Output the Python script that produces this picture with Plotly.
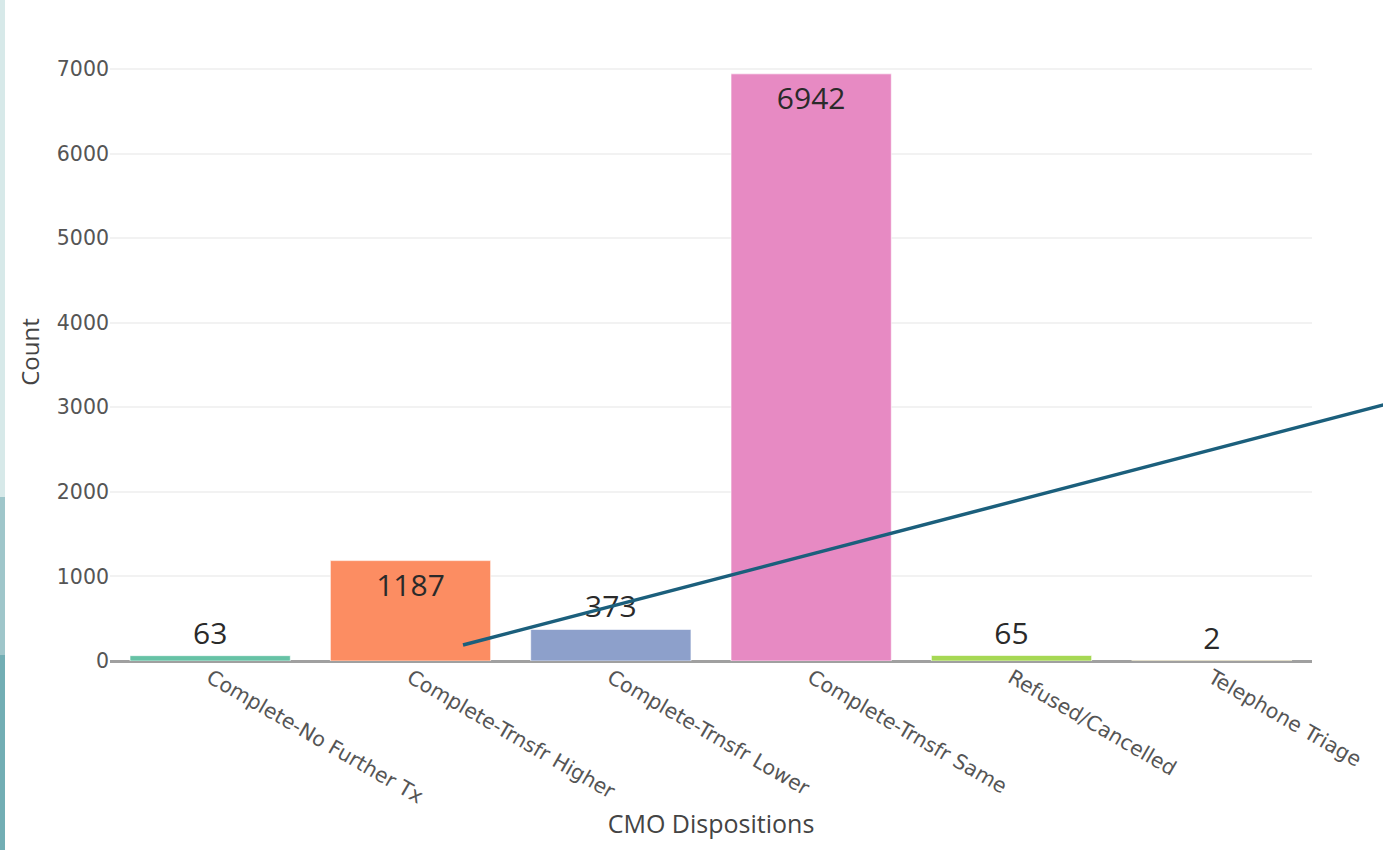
import plotly.graph_objects as go

categories = ["Complete-No Further Tx", "Complete-Trnsfr Higher", "Complete-Trnsfr Lower",
              "Complete-Trnsfr Same", "Refused/Cancelled", "Telephone Triage"]
counts = [63, 1187, 373, 6942, 65, 2]
bar_colors = ["#66c2a5", "#fc8d62", "#8da0cb", "#e78ac3", "#a6d854", "#ffd92f"]
y_ticks = [0, 1000, 2000, 3000, 4000, 5000, 6000, 7000]

W, H = 1383, 850
ML, MR, MT, MB = 110, 71, 43, 189
pw = W - ML - MR
ph = H - MT - MB

def px_x(x):
    return (x - ML) / pw

def px_y(y):
    return (H - MB - y) / ph

TICK_FONT = "Verdana, DejaVu Sans, sans-serif"

fig = go.Figure()
fig.add_trace(go.Bar(
    x=categories, y=counts,
    marker=dict(color=bar_colors, line=dict(color="rgba(255,255,255,0.6)", width=1)),
    text=[str(c) for c in counts],
    textposition="auto",
    textfont=dict(family="Open Sans", size=30, color="#2a2a2a"),
    insidetextanchor="end",
    cliponaxis=False,
    showlegend=False,
))

shapes = [
    # left decorative strip (slide background)
    dict(type="rect", xref="paper", yref="paper", x0=px_x(0), x1=px_x(5), y0=px_y(0), y1=px_y(497),
         fillcolor="#d7e9e9", line=dict(width=0), layer="below"),
    dict(type="rect", xref="paper", yref="paper", x0=px_x(0), x1=px_x(5), y0=px_y(497), y1=px_y(655),
         fillcolor="#9fc6ca", line=dict(width=0), layer="below"),
    dict(type="rect", xref="paper", yref="paper", x0=px_x(0), x1=px_x(5), y0=px_y(655), y1=px_y(850),
         fillcolor="#72aeb4", line=dict(width=0), layer="below"),
    # decorative overlay line
    dict(type="line", xref="paper", yref="paper", x0=px_x(463), y0=px_y(645), x1=px_x(1400), y1=px_y(400.6),
         line=dict(color="#1b5f7c", width=3.5), layer="above"),
]

fig.update_layout(
    width=W, height=H,
    margin=dict(l=ML, r=MR, t=MT, b=MB),
    paper_bgcolor="white", plot_bgcolor="white",
    font=dict(family="Open Sans", color="#444"),
    bargap=0.2,
    shapes=shapes,
    xaxis=dict(
        title=dict(text="CMO Dispositions", font=dict(family="Open Sans", size=25, color="#444"), standoff=8),
        tickangle=30,
        tickfont=dict(family=TICK_FONT, size=20.5, color="#555"),
        showgrid=False,
        showline=False,
        zeroline=False,
    ),
    yaxis=dict(
        title=dict(text="Count", font=dict(family="Open Sans", size=24, color="#444"), standoff=10),
        range=[0, 7307],
        tickvals=y_ticks,
        tickfont=dict(family=TICK_FONT, size=20.5, color="#555"),
        showgrid=True, gridcolor="#f2f2f2", gridwidth=2,
        zeroline=True, zerolinecolor="#a0a0a0", zerolinewidth=2.5,
        ticks="", ticklen=0,
    ),
)

fig.write_html("out.html")
